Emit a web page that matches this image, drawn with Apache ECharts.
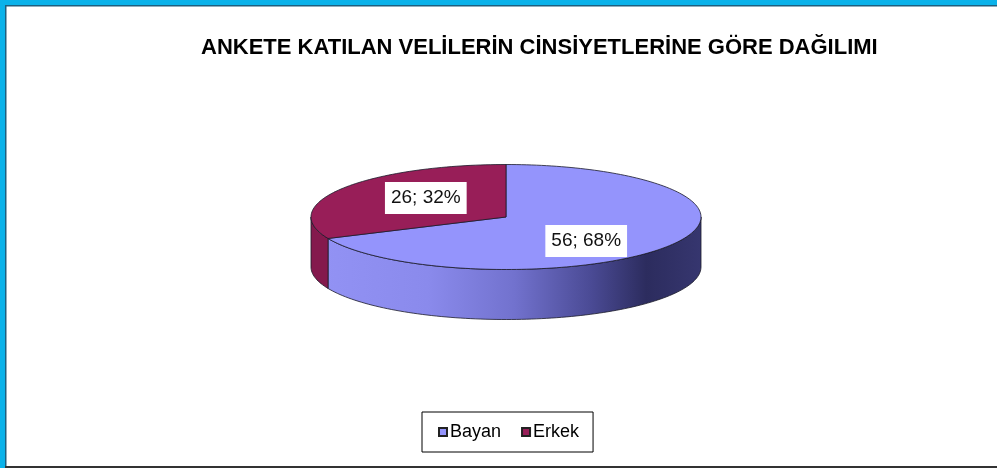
<!DOCTYPE html>
<html>
<head>
<meta charset="utf-8">
<script src="https://cdn.jsdelivr.net/npm/echarts@6/dist/echarts.min.js"></script>
<style>
html,body{margin:0;padding:0;background:#fff;}
#chart{width:997px;height:468px;}
</style>
</head>
<body>
<div id="chart"></div>
<script>
// ---- data ----
const categories = ['Bayan', 'Erkek'];
const values = [56, 26];
const titleText = 'ANKETE KATILAN VELİLERİN CİNSİYETLERİNE GÖRE DAĞILIMI';

// ---- layout / style ----
const CX = 506, CY = 217, RX = 195, RY = 52.5, DEPTH = 50;
const topColors = ['#9494FC', '#981E58'];
const sideColors = [
  {type:'linear', x: CX - RX, y: 0, x2: CX + RX, y2: 0, global: true,
   colorStops: [
     {offset: 0, color: '#9393F5'},
     {offset: 0.3, color: '#8A8AEC'},
     {offset: 0.52, color: '#7272CE'},
     {offset: 0.72, color: '#4A4A94'},
     {offset: 0.86, color: '#2C2C5E'},
     {offset: 1, color: '#36366F'}
   ]},
  '#84194D'
];

const total = values.reduce((a, b) => a + b, 0);
function pt(tDeg, dy) {
  const t = tDeg * Math.PI / 180;
  return [CX + RX * Math.cos(t), CY - RY * Math.sin(t) + (dy || 0)];
}
function arc(a, b, dy) {
  const pts = [];
  const n = Math.max(2, Math.ceil(Math.abs(b - a) / 1.5));
  for (let i = 0; i <= n; i++) pts.push(pt(a + (b - a) * i / n, dy));
  return pts;
}

function makeRender(idx) {
  return function (params, api) {
    let before = 0;
    for (let i = 0; i < idx; i++) before += values[i];
    const v = api.value(0);
    const start = 90 - before / total * 360;
    const end = start - v / total * 360;
    const children = [];
    // side walls (front half only)
    for (let k = -1; k <= 1; k++) {
      const lo = Math.max(end, -180 + 360 * k);
      const hi = Math.min(start, 0 + 360 * k);
      if (hi > lo) {
        const topArc = arc(lo, hi, 0);
        const botArc = arc(hi, lo, DEPTH);
        children.push({
          type: 'polygon', z2: 1,
          shape: {points: topArc.concat(botArc)},
          style: {fill: sideColors[idx], stroke: '#1a1a2a', lineWidth: 0.8}
        });
      }
    }
    // top face
    const topPts = [[CX, CY]].concat(arc(start, end, 0));
    children.push({
      type: 'polygon', z2: 2,
      shape: {points: topPts},
      style: {fill: topColors[idx], stroke: '#1a1a2a', lineWidth: 0.8}
    });
    // label
    const mid = (start + end) / 2 * Math.PI / 180;
    const lx = CX + RX * 0.49 * Math.cos(mid);
    const ly = CY - RY * 0.75 * Math.sin(mid) + 2.5;
    const pct = Math.round(v / total * 100);
    children.push({
      type: 'text', z2: 10,
      x: lx, y: ly,
      style: {
        text: v + '; ' + pct + '%',
        fill: '#111', font: '19px "Liberation Sans", Arial, sans-serif',
        align: 'center', verticalAlign: 'middle',
        backgroundColor: '#fff', padding: [7, 6, 6, 6]
      }
    });
    return {type: 'group', children: children};
  };
}

const chart = echarts.init(document.getElementById('chart'), null, {renderer: 'canvas'});
chart.setOption({
  animation: false,
  backgroundColor: '#fff',
  title: {
    text: titleText, left: 196, top: 32,
    textStyle: {fontFamily: '"Liberation Sans", Arial, sans-serif', fontWeight: 'bold', fontSize: 22, color: '#000'}
  },
  legend: {
    data: categories, left: 422, top: 412,
    icon: 'rect', itemWidth: 8, itemHeight: 8, itemGap: 20,
    borderColor: '#000', borderWidth: 1, borderRadius: 0,
    padding: [11, 14, 11, 16],
    textStyle: {fontFamily: '"Liberation Sans", Arial, sans-serif', fontSize: 18, color: '#000', padding: [0, 0, 0, -2]}
  },
  graphic: [
    {type: 'rect', shape: {x: 0, y: 0, width: 997, height: 5}, style: {fill: '#0AB2EA'}, z: 100},
    {type: 'rect', shape: {x: 5, y: 5, width: 992, height: 1.5}, style: {fill: '#1E5F7E'}, z: 100},
    {type: 'rect', shape: {x: 0, y: 0, width: 5, height: 468}, style: {fill: '#0AB2EA'}, z: 100},
    {type: 'rect', shape: {x: 5, y: 5, width: 1.5, height: 463}, style: {fill: '#1E5F7E'}, z: 100},
    {type: 'rect', shape: {x: 5, y: 466, width: 992, height: 2}, style: {fill: '#333'}, z: 100}
  ],
  series: categories.map((name, idx) => ({
    type: 'custom', name: name, coordinateSystem: 'none',
    itemStyle: {color: topColors[idx], borderColor: '#222', borderWidth: 1},
    renderItem: makeRender(idx),
    data: [[values[idx]]]
  }))
});
</script>
</body>
</html>
